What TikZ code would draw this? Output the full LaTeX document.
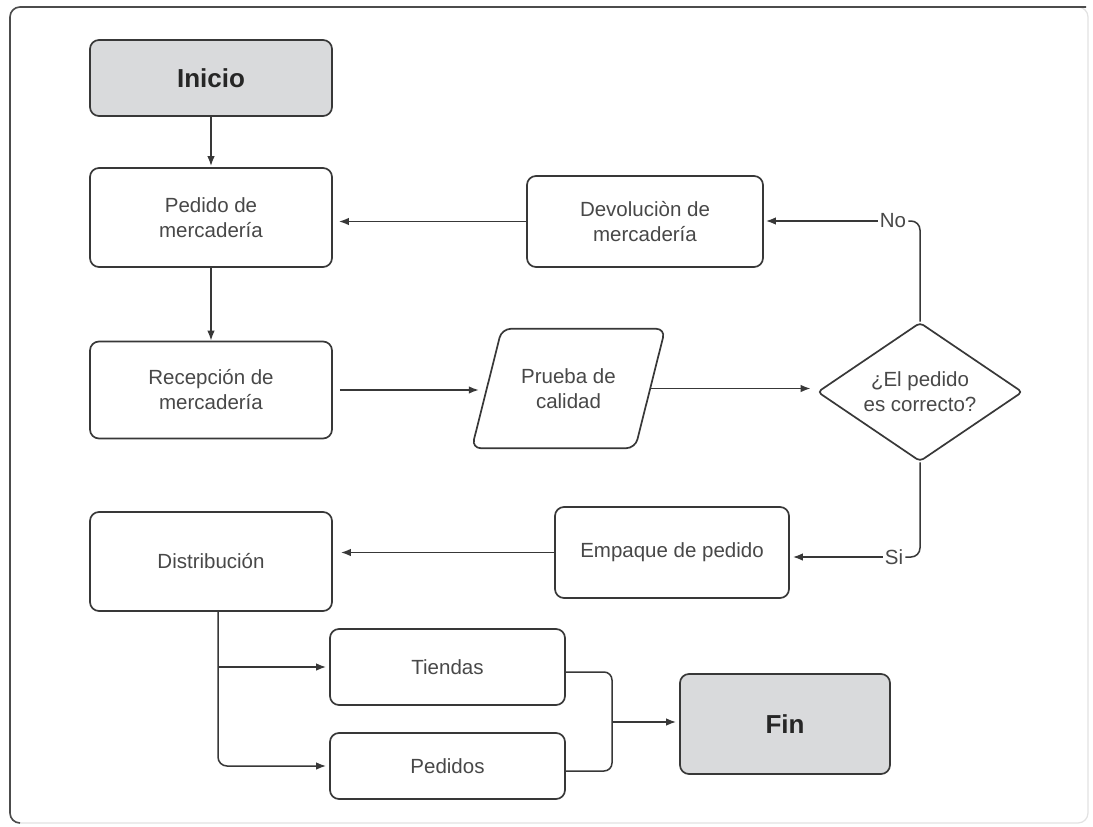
\documentclass[tikz,border=0pt]{standalone}
\usepackage{fontspec}
\setmainfont{Liberation Sans}
\usetikzlibrary{shapes.geometric,arrows.meta,calc}
\definecolor{linec}{HTML}{383838}
\definecolor{txt}{HTML}{484848}
\definecolor{boxfill}{HTML}{D9DADC}
\definecolor{framelight}{HTML}{E2E2E2}
\begin{document}
\begin{tikzpicture}[x=1pt,y=-1pt,
  box/.style={draw=linec, line width=1.7pt, rounded corners=9pt, fill=white, text=txt,
    align=center, inner sep=0pt, font=\fontsize{20.5}{25}\selectfont},
  termbox/.style={box, fill=boxfill, text=black!85, font=\fontsize{26}{30}\selectfont\bfseries},
  conn/.style={draw=linec, line width=1.5pt},
  arr/.style={conn, -{Latex[length=10pt,width=7.5pt]}},
  lbl/.style={text=txt, inner sep=2pt, font=\fontsize{20.5}{25}\selectfont}]
\useasboundingbox (0,0) rectangle (1093,827);
\fill[white] (0,0) rectangle (1093,827);
% outer frame
\draw[framelight, line width=1.2pt, rounded corners=10pt] (10,7) rectangle (1088,823);
\draw[linec!90, line width=1.6pt, rounded corners=10pt] (1086,7) -- (10,7) -- (10,823) -- (20,823);

% nodes
\node[termbox, minimum width=242pt, minimum height=76pt] (ini) at (211,78) {Inicio};
\node[box, minimum width=242pt, minimum height=99pt] (ped) at (211,217.5) {Pedido de\\mercadería};
\node[box, minimum width=236pt, minimum height=91pt] (dev) at (645,221.5) {Devoluciòn de\\mercadería};
\node[box, minimum width=242pt, minimum height=97pt] (rec) at (211,390) {Recepción de\\mercadería};
\node[align=center, inner sep=0pt, text=txt, font=\fontsize{20.5}{25}\selectfont,
      minimum width=163pt, minimum height=119pt] (pru) at (568.5,388.5) {Prueba de\\calidad};
\draw[linec, line width=1.7pt, rounded corners=9pt]
  ($(pru.south west)+(-15,0)$) -- ($(pru.north west)+(15,0)$) --
  ($(pru.north east)+(15,0)$) -- ($(pru.south east)+(-15,0)$) -- cycle;
\node[box, diamond, rounded corners=4pt, minimum width=205pt, minimum height=139pt, aspect=1.5] (dia) at (920,392) {¿El pedido\\es correcto?};
\node[box, minimum width=234pt, minimum height=91pt] (emp) at (672,552.5) {Empaque de pedido};
\node[box, minimum width=242pt, minimum height=99pt] (dis) at (211,561.5) {Distribución};
\node[box, minimum width=235pt, minimum height=76pt] (tie) at (447.5,667) {Tiendas};
\node[box, minimum width=235pt, minimum height=66pt] (pds) at (447.5,766) {Pedidos};
\node[termbox, minimum width=210pt, minimum height=100pt] (fin) at (785,724) {Fin};

% labels on the decision branches
\node[lbl] (no) at (893,221) {No};
\node[lbl] (si) at (894,557) {Si};

% connectors
\draw[arr, shorten >=1pt] (ini) -- (ped);
\draw[arr] (ped) -- (rec);
\draw[arr, shorten >=6pt] (dev.west) -- (dev.west -| ped.east);
\draw[conn, rounded corners=9pt] (dia.north) |- (no.east);
\draw[arr, shorten >=2pt] (no.west) -- (no.west -| dev.east);
\draw[arr, shorten <=7pt, shorten >=8pt] (rec.east) -- (rec.east -| pru.west);
\draw[arr, shorten >=6pt] (pru.east) -- (pru.east -| dia.west);
\draw[conn, rounded corners=9pt] (dia.south) |- (si.east);
\draw[arr, shorten >=3pt] (si.west) -- (si.west -| emp.east);
\draw[arr, shorten >=8pt] (emp.west) -- (emp.west -| dis.east);
\coordinate (dbr) at ([xshift=7pt]dis.south);
\draw[arr, rounded corners=9pt, shorten >=3pt] (dbr) |- (pds.west);
\draw[arr, shorten >=3pt] (dbr |- tie.west) -- (tie.west);
\coordinate (brk) at (612,722);
\draw[conn, rounded corners=8pt] ([yshift=-5pt]tie.east) -| (brk) |- ([yshift=-5pt]pds.east);
\draw[arr, shorten >=3pt] (brk) -- (brk -| fin.west);
\end{tikzpicture}
\end{document}
